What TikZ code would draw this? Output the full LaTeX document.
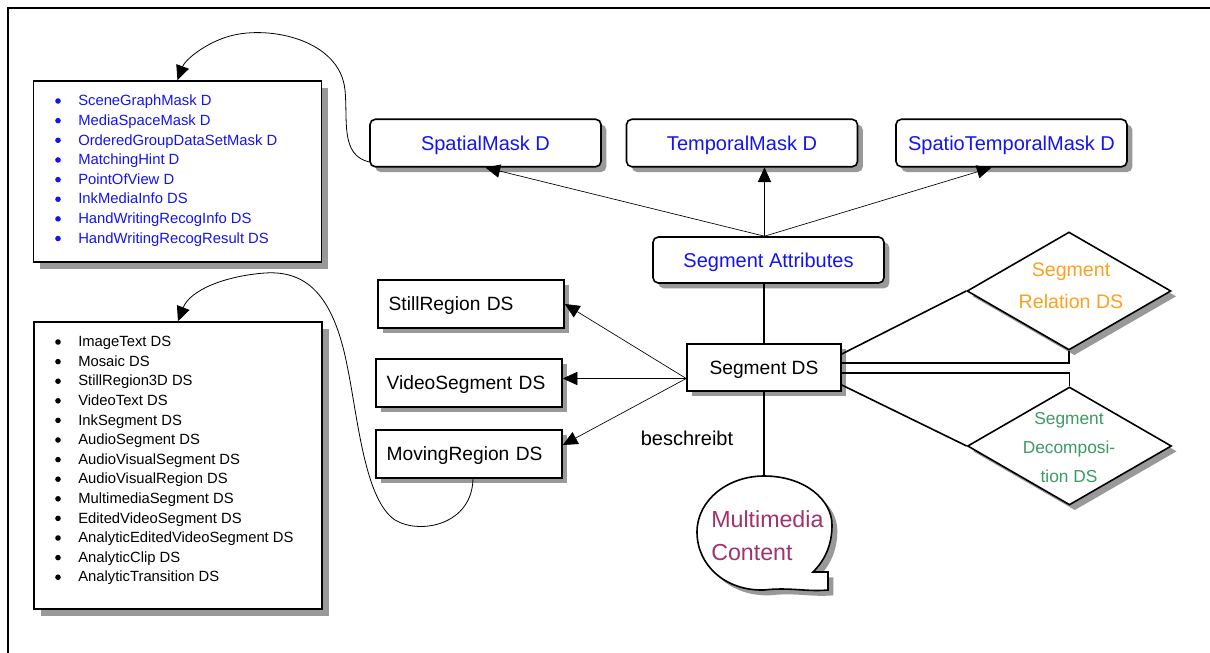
\documentclass[tikz,border=0pt]{standalone}
\usepackage{fontspec}
\setmainfont{Liberation Sans}
\usetikzlibrary{arrows.meta,shapes.geometric,shadows,calc}

\definecolor{maskblue}{RGB}{20,20,240}
\definecolor{relorange}{RGB}{255,160,30}
\definecolor{decgreen}{RGB}{60,155,100}
\definecolor{mmplum}{RGB}{160,50,110}
\definecolor{shadowgray}{RGB}{153,153,153}

\begin{document}
\begin{tikzpicture}[x=0.75pt,y=-0.75pt,
  shade/.style={drop shadow={shadow xshift=4pt,shadow yshift=-4pt,fill=shadowgray,opacity=1}},
  bigshade/.style={drop shadow={shadow xshift=5.2pt,shadow yshift=-5.2pt,fill=shadowgray,opacity=1}},
  boxline/.style={draw=black,line width=1.2pt,fill=white},
  listbox/.style={boxline,bigshade,minimum width=216pt,inner sep=0pt},
  listtext/.style={anchor=north west,inner sep=0pt,align=left,font=\fontsize{11.1}{14.7}\selectfont},
  maskbox/.style={boxline,shade,rounded corners=4pt,minimum width=173.25pt,minimum height=35.6pt,
    inner sep=0pt,text=maskblue,font=\fontsize{15}{18}\selectfont,text height=13.6pt,text depth=2.7pt},
  dsbox/.style={boxline,shade,minimum width=139.5pt,minimum height=36pt,inner xsep=8pt,inner ysep=0pt,
    text width=123.5pt,align=left,font=\fontsize{14.4}{17}\selectfont,text height=13pt,text depth=2.6pt},
  diam/.style={diamond,boxline,shade,inner sep=0pt,minimum width=153pt,minimum height=88.5pt},
  conn/.style={line width=0.5pt,-{Triangle[length=11pt,width=10pt]}},
  curve/.style={line width=0.6pt,-{Triangle[length=11pt,width=10pt]}},
  link/.style={line width=1.2pt},
  bulletdot/.style={radius=2.1pt}
]
\useasboundingbox (0,0) rectangle (1210,653);

% frame
\draw[line width=1.2pt] (1210,8) -- (8,8) -- (8,653);

% item list boxes
\node[listbox,minimum height=135.75pt] (masks) at (177.5,171.5) {};
\node[listtext,text=maskblue] (masklist) at (78,95) {%
  SceneGraphMask D\\
  MediaSpaceMask D\\
  OrderedGroupDataSetMask D\\
  MatchingHint D\\
  PointOfView D\\
  InkMediaInfo DS\\
  HandWritingRecogInfo DS\\
  HandWritingRecogResult DS};
\foreach \i in {0,...,7}
  \fill[maskblue,bulletdot] (58,101+19.65*\i) circle;

\node[listbox,minimum height=215.25pt] (segs) at (178,465.5) {};
\node[listtext] (seglist) at (78,336) {%
  ImageText DS\\
  Mosaic DS\\
  StillRegion3D DS\\
  VideoText DS\\
  InkSegment DS\\
  AudioSegment DS\\
  AudioVisualSegment DS\\
  AudioVisualRegion DS\\
  MultimediaSegment DS\\
  EditedVideoSegment DS\\
  AnalyticEditedVideoSegment DS\\
  AnalyticClip DS\\
  AnalyticTransition DS};
\foreach \i in {0,...,12}
  \fill[black,bulletdot] (58,342+19.6*\i) circle;

% mask descriptors
\node[maskbox] (spatial) at (485.5,143) {SpatialMask D};
\node[maskbox] (temporal) at (742,143) {TemporalMask D};
\node[maskbox] (spatiotemporal) at (1011.5,143) {SpatioTemporalMask D};
\node[maskbox,minimum height=34.5pt] (attr) at (768.5,260) {Segment Attributes};

% segment types
\node[dsbox] (still) at (471,304) {StillRegion DS};
\node[dsbox] (video) at (469,383) {VideoSegment DS};
\node[dsbox] (moving) at (469,454) {MovingRegion DS};

% central segment
\node[boxline,shade,minimum width=115.5pt,minimum height=35.25pt,inner sep=0pt,
  font=\fontsize{14.4}{17}\selectfont,text height=13pt,text depth=2.6pt] (seg) at (764,367.5) {Segment DS};

\node[font=\fontsize{15}{18}\selectfont,inner sep=0pt] (describes) at (687,438) {beschreibt};

% relation and decomposition
\node[diam] (rel) at (1069,291) {};
\node[align=center,inner sep=0pt,text=relorange,font=\fontsize{14.7}{24}\selectfont] (reltext) at (1071,286) {Segment\\Relation DS};
\node[diam] (dec) at (1069.5,446) {};
\node[align=center,inner sep=0pt,text=decgreen,font=\fontsize{13}{21.75}\selectfont] (dectext) at (1069,448) {Segment\\Decomposi-\\tion DS};

% multimedia content callout
\coordinate (mctop) at (764,476);
\path[boxline,shade] (828,572) -- (828,590)
  .. controls (806,592) and (790,587) .. (764,590)
  .. controls (725,591) and (697,565) .. (697,532)
  .. controls (697,500) and (728,476) .. (mctop)
  .. controls (805,476) and (832,500) .. (832,525)
  .. controls (832,545) and (825,560) .. (813,572) -- cycle;
\node[align=left,inner sep=0pt,text=mmplum,font=\fontsize{17.4}{24.75}\selectfont,anchor=west] (mc) at (711,535.5) {Multimedia\\Content};

% attribute arrows
\coordinate (attrtop) at ($(attr.north)+(-4,0)$);
\draw[conn] (attrtop) -- (spatial.south);
\draw[conn] (attrtop) -- (attrtop |- temporal.south);
\draw[conn] (attrtop) -- ($(spatiotemporal.south)+(-20,0)$);

% segment links
\draw[link] (seg.north |- attr.south) -- (seg.north);
\draw[link] (seg.south) -- (mctop);
\coordinate (segout) at ($(seg.west)+(0,11)$);
\draw[conn] (segout) -- (still.east);
\draw[conn] (segout) -- (segout -| video.east);
\draw[conn] (segout) -- ($(moving.east)+(0,-9)$);

\draw[link] ($(seg.east)+(0,-13.5)$) -- (rel.west);
\draw[link] ($(seg.east)+(0,-4.5)$) -| (rel.south);
\draw[link] ($(seg.east)+(0,5.5)$) -| (dec.north);
\draw[link] ($(seg.east)+(0,17.5)$) -- (dec.west);

% curved references to the item lists
\draw[curve] ($(spatial.west)+(0,19)$)
  .. controls (340,155) and (348,120) .. (345,90)
  .. controls (340,40) and (270,25) .. (230,36)
  .. controls (205,43) and (185,60) .. (masks.north);
\draw[curve] ($(moving.south)+(4,0)$)
  .. controls (472,525) and (420,535) .. (395,520)
  .. controls (365,500) and (358,420) .. (348,370)
  .. controls (335,300) and (310,270) .. (265,273)
  .. controls (225,276) and (190,290) .. (segs.north);
\end{tikzpicture}
\end{document}
